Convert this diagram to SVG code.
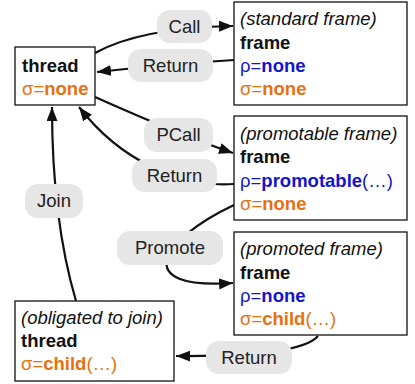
<svg xmlns="http://www.w3.org/2000/svg" width="415" height="384" viewBox="0 0 415 384">
<defs>
<style>
text{font-family:"Liberation Sans",Arial,sans-serif;font-size:18.5px;fill:#111}
.box{fill:#fff;stroke:#111;stroke-width:1.3}
.pill{fill:#e6e6e6;stroke:none}
.edge{fill:none;stroke:#111;stroke-width:2.2}
.b{font-weight:bold}
.i{font-style:italic}
.rho{fill:#1414cc}
.sig{fill:#e8700f}
.lbl{text-anchor:middle;fill:#222}
</style>
<marker id="ah" markerUnits="userSpaceOnUse" markerWidth="15" markerHeight="12" refX="14" refY="5.5" orient="auto">
<path d="M0,0 L14,5.5 L0,11 Z" fill="#111"/>
</marker>
</defs>
<g id="connectors">
<path class="edge" d="M95,53 Q140,28 233,26" marker-end="url(#ah)"/>
<path class="edge" d="M234,60 Q170,64 97,72" marker-end="url(#ah)"/>
<path class="edge" d="M95,97 Q180,135 233,153" marker-end="url(#ah)"/>
<path class="edge" d="M234,184 C180,188 120,160 79,107" marker-end="url(#ah)"/>
<path class="edge" d="M234,205 C160,240 130,290 233,283" marker-end="url(#ah)"/>
<path class="edge" d="M318,336 Q300,357 176,356" marker-end="url(#ah)"/>
<path class="edge" d="M76,301 C58,240 52,170 52,107" marker-end="url(#ah)"/>
</g>
<g id="label-call"><rect class="pill" x="157" y="10" width="55" height="33" rx="13"/><text class="lbl" x="184.5" y="33">Call</text></g>
<g id="label-return1"><rect class="pill" x="128" y="49" width="85" height="33" rx="13"/><text class="lbl" x="170.5" y="72">Return</text></g>
<g id="label-pcall"><rect class="pill" x="144" y="118" width="69" height="34" rx="13"/><text class="lbl" x="178.5" y="141">PCall</text></g>
<g id="label-return2"><rect class="pill" x="132" y="159" width="85" height="33" rx="13"/><text class="lbl" x="174.5" y="182">Return</text></g>
<g id="label-join"><rect class="pill" x="25" y="184" width="58" height="34" rx="13"/><text class="lbl" x="54" y="207">Join</text></g>
<g id="label-promote"><rect class="pill" x="117" y="231" width="106" height="34" rx="13"/><text class="lbl" x="170" y="254">Promote</text></g>
<g id="label-return3"><rect class="pill" x="206" y="341" width="86" height="33" rx="13"/><text class="lbl" x="249" y="364">Return</text></g>
<g id="thread">
<rect class="box" x="15" y="47" width="80" height="58"/>
<text class="b" x="22" y="72">thread</text>
<text class="sig" x="22" y="95">σ=<tspan class="b">none</tspan></text>
</g>
<g id="standard-frame">
<rect class="box" x="234" y="2" width="173" height="103"/>
<text class="i" x="240" y="25">(standard frame)</text>
<text class="b" x="240" y="49">frame</text>
<text class="rho" x="240" y="72">ρ=<tspan class="b">none</tspan></text>
<text class="sig" x="240" y="95">σ=<tspan class="b">none</tspan></text>
</g>
<g id="promotable-frame">
<rect class="box" x="234" y="116" width="173" height="104"/>
<text class="i" x="240" y="140">(promotable frame)</text>
<text class="b" x="240" y="163">frame</text>
<text class="rho" x="240" y="187">ρ=<tspan class="b">promotable</tspan>(…)</text>
<text class="sig" x="240" y="210">σ=<tspan class="b">none</tspan></text>
</g>
<g id="promoted-frame">
<rect class="box" x="234" y="232" width="173" height="103"/>
<text class="i" x="240" y="255">(promoted frame)</text>
<text class="b" x="240" y="279">frame</text>
<text class="rho" x="240" y="302">ρ=<tspan class="b">none</tspan></text>
<text class="sig" x="240" y="325">σ=<tspan class="b">child</tspan>(…)</text>
</g>
<g id="obligated-thread">
<rect class="box" x="15" y="301" width="159" height="80"/>
<text class="i" x="21" y="324">(obligated to join)</text>
<text class="b" x="21" y="347">thread</text>
<text class="sig" x="21" y="370">σ=<tspan class="b">child</tspan>(…)</text>
</g>
</svg>
